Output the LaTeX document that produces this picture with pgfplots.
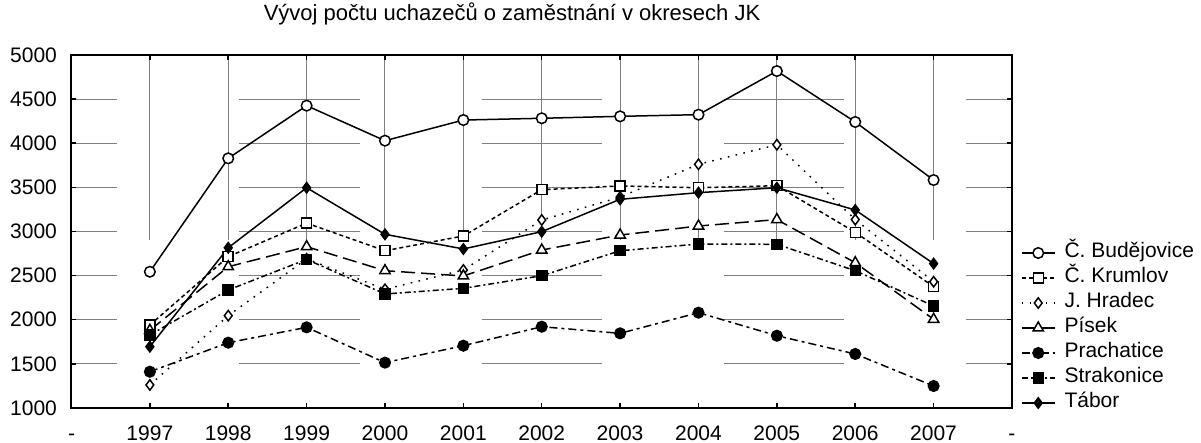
\documentclass[border=0pt]{standalone}
\usepackage{fontspec}
\setmainfont{Liberation Sans}
\usepackage{pgfplots}
\usepackage{pgfplotstable}
\pgfplotsset{compat=1.18}

\pgfplotstableread{
year bud kru hra pis pra str tab
1997 2544 1940 1261 1880 1411 1827 1695
1998 3829 2715 2046 2601 1740 2337 2816
1999 4426 3095 2690 2828 1914 2684 3496
2000 4029 2782 2345 2556 1514 2292 2968
2001 4263 2949 2564 2496 1706 2356 2802
2002 4283 3474 3130 2790 1921 2499 2998
2003 4305 3516 3390 2960 1846 2782 3365
2004 4324 3496 3761 3062 2080 2858 3440
2005 4818 3519 3983 3135 1819 2855 3496
2006 4241 2991 3135 2646 1612 2556 3244
2007 3583 2375 2431 2005 1249 2156 2636
}\data

\begin{document}
\begin{tikzpicture}
\path[use as bounding box] (-35.75pt,-17.5pt) rectangle (564.75pt,204pt);
\begin{axis}[
  at={(0,0)}, anchor=south west,
  scale only axis, width=470.25pt, height=176.5pt,
  xmin=1996, xmax=2008, ymin=1000, ymax=5000,
  xtick={1996,...,2008},
  xticklabels={-,1997,1998,1999,2000,2001,2002,2003,2004,2005,2006,2007,-},
  ytick={1000,1500,...,5000},
  /pgf/number format/1000 sep={},
  /pgf/number format/assume math mode=true,
  tick align=inside, major tick length=2.5pt,
  axis line style={line width=1pt},
  tick style={black, line width=0.75pt},
  ticklabel style={font=\fontsize{10.5}{12}\selectfont},
  yticklabel style={xshift=-3.75pt},
  xticklabel style={text height=7.5pt, text depth=0pt, yshift=-5pt},
  xmajorgrids, ymajorgrids,
  x grid style={black!50, line width=0.5pt, dash pattern=on 92.5pt off 84pt, dash phase=92.5pt},
  y grid style={black!50, line width=0.5pt, dash pattern=on 60pt off 61pt, dash phase=37pt},
  every axis plot/.append style={black, line width=0.75pt},
  title={Vývoj počtu uchazečů o zaměstnání v okresech JK},
  title style={at={(0.4684,1)}, anchor=base, yshift=11.5pt, inner sep=0pt, font=\fontsize{11}{13}\selectfont},
  legend cell align=left,
  legend image code/.code={\draw[mark repeat=2,mark phase=2,#1] plot coordinates {(0pt,0pt) (8.25pt,0pt) (16.5pt,0pt)};},
  legend style={at={(rel axis cs:1,0.466)}, anchor=north west, xshift=4.5pt,
    draw=none, fill=none, inner sep=0pt, outer sep=0pt, row sep=3pt, column sep=4.5pt,
    font=\fontsize{10.5}{12}\selectfont,
    nodes={inner sep=0pt, text height=7pt, text depth=2.5pt}},
]
\addplot[solid, mark=*, mark size=2.65pt, mark options={solid, fill=white}] table[x=year,y=bud] {\data};
\addlegendentry{Č. Budějovice}
\addplot[dash pattern=on 2pt off 1.5pt, mark=square*, mark size=2.5pt, mark options={solid, fill=white}] table[x=year,y=kru] {\data};
\addlegendentry{Č. Krumlov}
\addplot[dash pattern=on 0.8pt off 3.2pt, mark=diamond*, mark size=2.6pt, mark options={solid, fill=white}] table[x=year,y=hra] {\data};
\addlegendentry{J. Hradec}
\addplot[dash pattern=on 7pt off 3pt, mark=triangle*, mark size=3pt, mark options={solid, fill=white}] table[x=year,y=pis] {\data};
\addlegendentry{Písek}
\addplot[dash pattern=on 4pt off 2pt on 1.5pt off 2pt, mark=*, mark size=2.65pt, mark options={solid, fill=black}] table[x=year,y=pra] {\data};
\addlegendentry{Prachatice}
\addplot[dash pattern=on 3pt off 1.5pt on 1pt off 1.5pt, mark=square*, mark size=2.5pt, mark options={solid, fill=black}] table[x=year,y=str] {\data};
\addlegendentry{Strakonice}
\addplot[solid, mark=diamond*, mark size=2.6pt, mark options={solid, fill=black}] table[x=year,y=tab] {\data};
\addlegendentry{Tábor}
\end{axis}
\end{tikzpicture}
\end{document}
